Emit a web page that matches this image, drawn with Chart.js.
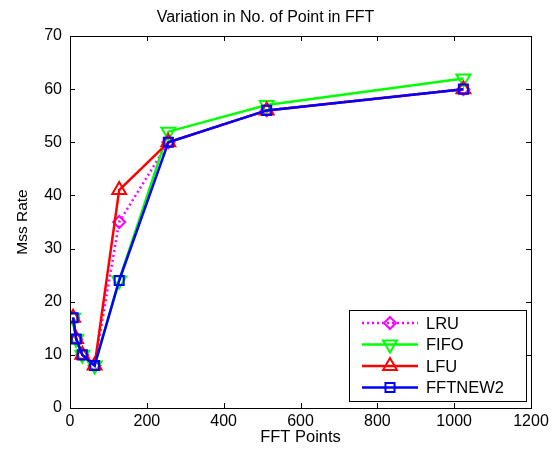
<!DOCTYPE html>
<html>
<head>
<meta charset="utf-8">
<script src="https://cdn.jsdelivr.net/npm/chart.js@4"></script>
<style>
html,body{margin:0;padding:0;background:#fff;}
#wrap{width:555px;height:449px;}
</style>
</head>
<body>
<div id="wrap"><canvas id="c" width="555" height="449"></canvas></div>
<script>
// ---------- DATA ----------
const fftPoints = [8, 16, 32, 64, 128, 256, 512, 1024];
const lru     = [17, 13, 10, 8, 35, 50, 56, 60];
const fifo    = [17, 13, 10, 8, 24, 52, 57, 62];
const lfu     = [17, 13, 10, 8, 41, 50, 56, 60];
const fftnew2 = [17, 13, 10, 8, 24, 50, 56, 60];
const seriesNames = ['LRU', 'FIFO', 'LFU', 'FFTNEW2'];
const xTicks = [0, 200, 400, 600, 800, 1000, 1200];
const yTicks = [0, 10, 20, 30, 40, 50, 60, 70];

const FONT = '"Liberation Sans", Arial, sans-serif';

function pts(vals){ return fftPoints.map((x,i)=>({x:x, y:vals[i]})); }

const styles = [
  {color:'#ff00ff', dash:[2,3], marker:'rectRot', radius:6, rot:0},
  {color:'#00ff00', dash:[],    marker:'triangle', radius:8, rot:180},
  {color:'#ff0000', dash:[],    marker:'triangle', radius:8, rot:0},
  {color:'#0000ff', dash:[],    marker:'rect',     radius:6.4, rot:0}
];
const allData = [lru, fifo, lfu, fftnew2];

const datasets = allData.map((vals,i)=>({
  label: seriesNames[i],
  data: pts(vals),
  borderColor: styles[i].color,
  borderWidth: 2.5,
  borderDash: styles[i].dash,
  backgroundColor: 'rgba(0,0,0,0)',
  pointStyle: styles[i].marker,
  pointRadius: styles[i].radius,
  pointRotation: styles[i].rot,
  pointBorderWidth: 2,
  pointBorderColor: styles[i].color,
  pointBackgroundColor: 'rgba(0,0,0,0)',
  tension: 0,
  order: 4 - i
}));

// ---------- MARKER ----------
function marker(ctx, s, x, y){
  ctx.save();
  ctx.strokeStyle = s.color; ctx.lineWidth = 2; ctx.setLineDash([]);
  ctx.beginPath();
  const r = s.radius;
  if(s.marker==='rect'){
    const h = r*Math.SQRT1_2;
    ctx.rect(x-h, y-h, 2*h, 2*h);
  } else if(s.marker==='rectRot'){
    ctx.moveTo(x, y-r); ctx.lineTo(x+r, y); ctx.lineTo(x, y+r); ctx.lineTo(x-r, y); ctx.closePath();
  } else {
    const d = s.rot===180 ? -1 : 1;
    ctx.moveTo(x, y - d*r);
    ctx.lineTo(x + r*0.866, y + d*r*0.5);
    ctx.lineTo(x - r*0.866, y + d*r*0.5);
    ctx.closePath();
  }
  ctx.stroke();
  ctx.restore();
}

// ---------- BOX, TICKS, LEGEND ----------
const boxPlugin = {
  id:'box',
  afterDraw(chart){
    const {ctx, chartArea:a, scales} = chart;
    ctx.save();
    ctx.strokeStyle = '#000'; ctx.lineWidth = 1; ctx.setLineDash([]);
    ctx.strokeRect(a.left+0.5, a.top+0.5, a.right-a.left, a.bottom-a.top);
    ctx.beginPath();
    xTicks.forEach(v=>{
      const x = Math.round(scales.x.getPixelForValue(v))+0.5;
      ctx.moveTo(x, a.bottom); ctx.lineTo(x, a.bottom-5);
      ctx.moveTo(x, a.top); ctx.lineTo(x, a.top+5);
    });
    yTicks.forEach(v=>{
      const y = Math.round(scales.y.getPixelForValue(v))+0.5;
      ctx.moveTo(a.left, y); ctx.lineTo(a.left+5, y);
      ctx.moveTo(a.right, y); ctx.lineTo(a.right-5, y);
    });
    ctx.stroke();

    // legend
    const lx = 349, ly = 310, lw = 177, lh = 91;
    ctx.fillStyle = '#fff';
    ctx.fillRect(lx, ly, lw, lh);
    ctx.strokeRect(lx+0.5, ly+0.5, lw, lh);
    ctx.font = '16.5px ' + FONT;
    ctx.textBaseline = 'middle';
    seriesNames.forEach((name,i)=>{
      const y = ly + 13 + i*21.5;
      const s = styles[i];
      ctx.strokeStyle = s.color; ctx.lineWidth = 2.5;
      ctx.setLineDash(s.dash);
      ctx.beginPath(); ctx.moveTo(362, y); ctx.lineTo(418, y); ctx.stroke();
      marker(ctx, s, 390, y);
      ctx.fillStyle = '#000';
      ctx.fillText(name, 426, y+1);
    });
    ctx.restore();
  }
};

new Chart(document.getElementById('c').getContext('2d'), {
  type:'line',
  data:{datasets:datasets},
  options:{
    responsive:false,
    animation:false,
    layout:{padding:{left:0, right:24, top:0, bottom:0}},
    plugins:{
      legend:{display:false},
      tooltip:{enabled:false},
      title:{
        display:true,
        text:'Variation in No. of Point in FFT',
        color:'#000',
        font:{family:FONT, size:16, weight:'normal'},
        padding:{top:7.5, bottom:9.3}
      }
    },
    scales:{
      x:{
        type:'linear', min:0, max:1200,
        grid:{display:false, drawTicks:false},
        border:{display:false},
        afterFit(s){ s.height = 41; },
        afterBuildTicks(s){ s.ticks = xTicks.map(v=>({value:v})); },
        ticks:{color:'#000', padding:4, font:{family:FONT, size:16}, callback:v=>String(v)},
        title:{display:true, text:'FFT Points', color:'#000', padding:{top:0, bottom:1.8}, font:{family:FONT, size:16.5}}
      },
      y:{
        type:'linear', min:0, max:70,
        grid:{display:false, drawTicks:false},
        border:{display:false},
        afterFit(s){ s.width = 70; },
        afterBuildTicks(s){ s.ticks = yTicks.map(v=>({value:v})); },
        ticks:{color:'#000', padding:8, font:{family:FONT, size:16}, callback:v=>String(v)},
        title:{display:true, text:'Mss Rate', color:'#000', padding:{top:13, bottom:0}, font:{family:FONT, size:15.5}}
      }
    }
  },
  plugins:[boxPlugin]
});
</script>
</body>
</html>
